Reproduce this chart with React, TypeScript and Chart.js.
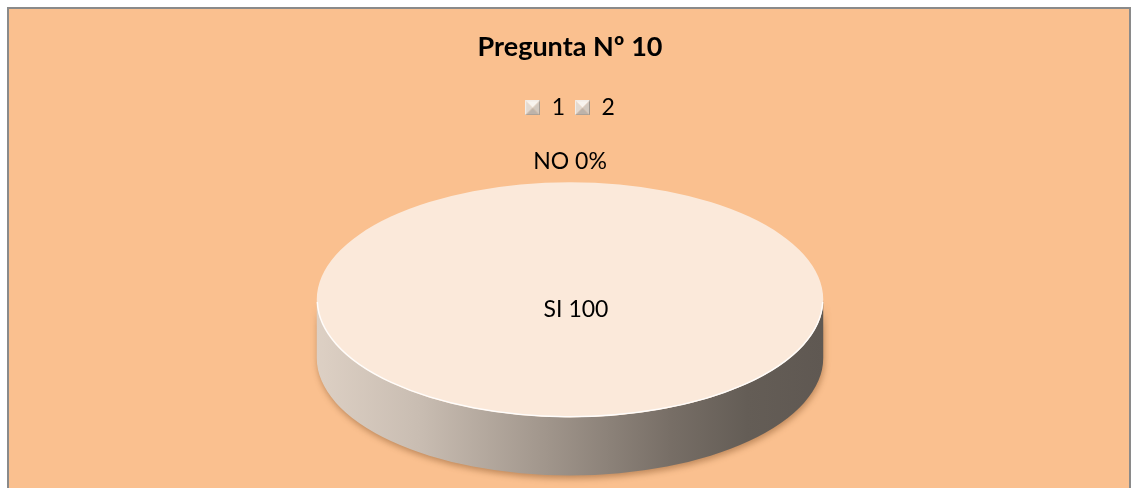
import { useEffect, useRef } from "react";
import { Chart, registerables } from "chart.js";

Chart.register(...registerables);

// Chart content
const chartTitle = "Pregunta Nº 10";
const categories = ["1", "2"];
const answerNames = ["SI", "NO"];
const answerValues = [100, 0];
const valueSuffixes = ["", "%"];

const FONT = "Lato, 'Open Sans', sans-serif";
const BACKGROUND = "#FAC08F";
const TOP_FACE = "#FBE9DA";

// Small bevelled (pyramid-shaded) square used as the legend marker
function makeLegendMarker(size: number): HTMLCanvasElement {
  const c = document.createElement("canvas");
  c.width = size;
  c.height = size;
  const g = c.getContext("2d")!;
  const s = size;
  const m = s / 2;
  const poly = (pts: number[][], color: string) => {
    g.beginPath();
    g.moveTo(pts[0][0], pts[0][1]);
    for (let k = 1; k < pts.length; k++) g.lineTo(pts[k][0], pts[k][1]);
    g.closePath();
    g.fillStyle = color;
    g.fill();
  };
  poly([[0, 0], [s, 0], [m, m]], "#F8F4EF");
  poly([[0, 0], [m, m], [0, s]], "#E2DAD2");
  poly([[s, 0], [s, s], [m, m]], "#D2C9C0");
  poly([[0, s], [s, s], [m, m]], "#BDB3AA");
  g.lineWidth = 1;
  g.strokeStyle = "#F2EDE8";
  g.beginPath();
  g.moveTo(0.5, s - 0.5);
  g.lineTo(0.5, 0.5);
  g.lineTo(s - 0.5, 0.5);
  g.stroke();
  g.strokeStyle = "#9E958C";
  g.beginPath();
  g.moveTo(s - 0.5, 0.5);
  g.lineTo(s - 0.5, s - 0.5);
  g.lineTo(0.5, s - 0.5);
  g.stroke();
  return c;
}

// Turns the flat pie into a tilted disc with a shaded side wall
const pie3dPlugin = {
  id: "pie3d",
  beforeDatasetsDraw(chart: any, _args: any, opts: any) {
    const arc = chart.getDatasetMeta(0).data[0];
    if (!arc) return;
    const { x, y, outerRadius } = arc.getProps(["x", "y", "outerRadius"], true);
    const rx = outerRadius * opts.stretch;
    const ry = rx * opts.tilt;
    const depth = rx * opts.depth;
    const ctx: CanvasRenderingContext2D = chart.ctx;

    ctx.save();
    ctx.beginPath();
    ctx.ellipse(x, y, rx, ry, 0, 0, Math.PI);
    ctx.lineTo(x - rx, y + depth);
    ctx.ellipse(x, y + depth, rx, ry, 0, Math.PI, 0, true);
    ctx.closePath();
    const grad = ctx.createLinearGradient(x - rx, 0, x + rx, 0);
    grad.addColorStop(0, "#DDD0C4");
    grad.addColorStop(0.2, "#C9BDB2");
    grad.addColorStop(0.45, "#A1968C");
    grad.addColorStop(0.7, "#776E66");
    grad.addColorStop(0.85, "#645D56");
    grad.addColorStop(1, "#5F5852");
    ctx.shadowColor = "rgba(120, 70, 30, 0.45)";
    ctx.shadowBlur = 6;
    ctx.shadowOffsetX = 1;
    ctx.shadowOffsetY = 3;
    ctx.fillStyle = grad;
    ctx.fill();
    ctx.restore();

    ctx.save();
    ctx.translate(x, y);
    ctx.scale(rx / outerRadius, ry / outerRadius);
    ctx.translate(-x, -y);
  },
  afterDatasetsDraw(chart: any, _args: any, opts: any) {
    const ctx: CanvasRenderingContext2D = chart.ctx;
    ctx.restore();
    const meta = chart.getDatasetMeta(0);
    const first = meta.data[0];
    if (!first) return;
    const { x, y, outerRadius } = first.getProps(["x", "y", "outerRadius"], true);
    const rx = outerRadius * opts.stretch;
    const ry = rx * opts.tilt;

    // light rim along the front edge of the top face
    ctx.save();
    ctx.beginPath();
    ctx.ellipse(x, y, rx - 0.5, ry - 0.5, 0, 0.02, Math.PI - 0.02);
    ctx.strokeStyle = "rgba(255,255,255,0.9)";
    ctx.lineWidth = 1.5;
    ctx.stroke();
    ctx.restore();

    // data labels
    ctx.save();
    ctx.font = `${opts.labelSize}px ${FONT}`;
    ctx.fillStyle = "#000";
    ctx.textAlign = "center";
    ctx.textBaseline = "middle";
    meta.data.forEach((arc: any, i: number) => {
      const { startAngle, endAngle, circumference } = arc.getProps(
        ["startAngle", "endAngle", "circumference"],
        true
      );
      const text = `${answerNames[i]} ${answerValues[i]}${valueSuffixes[i]}`;
      let px: number;
      let py: number;
      if (circumference >= Math.PI * 2 - 1e-6) {
        px = x + opts.centerLabelShift[0];
        py = y + opts.centerLabelShift[1];
      } else if (circumference <= 1e-6) {
        const a = startAngle;
        px = x + (rx + opts.outsideGap) * Math.cos(a);
        py = y + (ry + opts.outsideGap) * Math.sin(a);
      } else {
        const a = (startAngle + endAngle) / 2;
        px = x + rx * 0.6 * Math.cos(a);
        py = y + ry * 0.6 * Math.sin(a);
      }
      ctx.fillText(text, px, py);
    });
    ctx.restore();
  },
};

export default function App() {
  const canvasRef = useRef<HTMLCanvasElement | null>(null);

  useEffect(() => {
    const canvas = canvasRef.current;
    if (!canvas) return;
    Chart.defaults.font.family = FONT;
    const marker = makeLegendMarker(15);
    const chart = new Chart(canvas, {
      type: "pie",
      data: {
        labels: categories,
        datasets: [
          {
            data: answerValues,
            backgroundColor: [TOP_FACE, TOP_FACE],
            borderWidth: 0,
            clip: false as any,
          },
        ],
      },
      options: {
        responsive: false,
        devicePixelRatio: 1,
        animation: false,
        events: [],
        layout: { padding: { top: 0, left: 14, right: 5, bottom: 18 } },
        plugins: {
          title: {
            display: true,
            text: chartTitle,
            color: "#000",
            font: { family: FONT, size: 27, weight: "bold" },
            padding: { top: 31, bottom: 23 },
          },
          legend: {
            position: "top",
            labels: {
              usePointStyle: true,
              pointStyle: marker as any,
              boxWidth: 15,
              boxHeight: 15,
              padding: 10,
              color: "#000",
              font: { family: FONT, size: 23 },
            },
          },
          tooltip: { enabled: false },
          pie3d: {
            stretch: 1.487,
            tilt: 0.464,
            depth: 0.23,
            labelSize: 23,
            outsideGap: 21,
            centerLabelShift: [6, 10],
          },
        } as any,
      },
      plugins: [pie3dPlugin],
    });
    return () => chart.destroy();
  }, []);

  return (
    <div
      style={{
        position: "fixed",
        left: 0,
        top: 0,
        width: 1131,
        height: 488,
        overflow: "hidden",
      }}
    >
      <div
        style={{
          position: "absolute",
          left: 7,
          top: 7,
          width: 1124,
          height: 500,
          boxSizing: "border-box",
          background: BACKGROUND,
          borderTop: "2px solid #8A8A8A",
          borderLeft: "2px solid #8A8A8A",
          borderRight: "2px solid #8A8A8A",
        }}
      />
      <canvas
        ref={canvasRef}
        width={1131}
        height={488}
        style={{ position: "absolute", left: 0, top: 0 }}
      />
    </div>
  );
}
